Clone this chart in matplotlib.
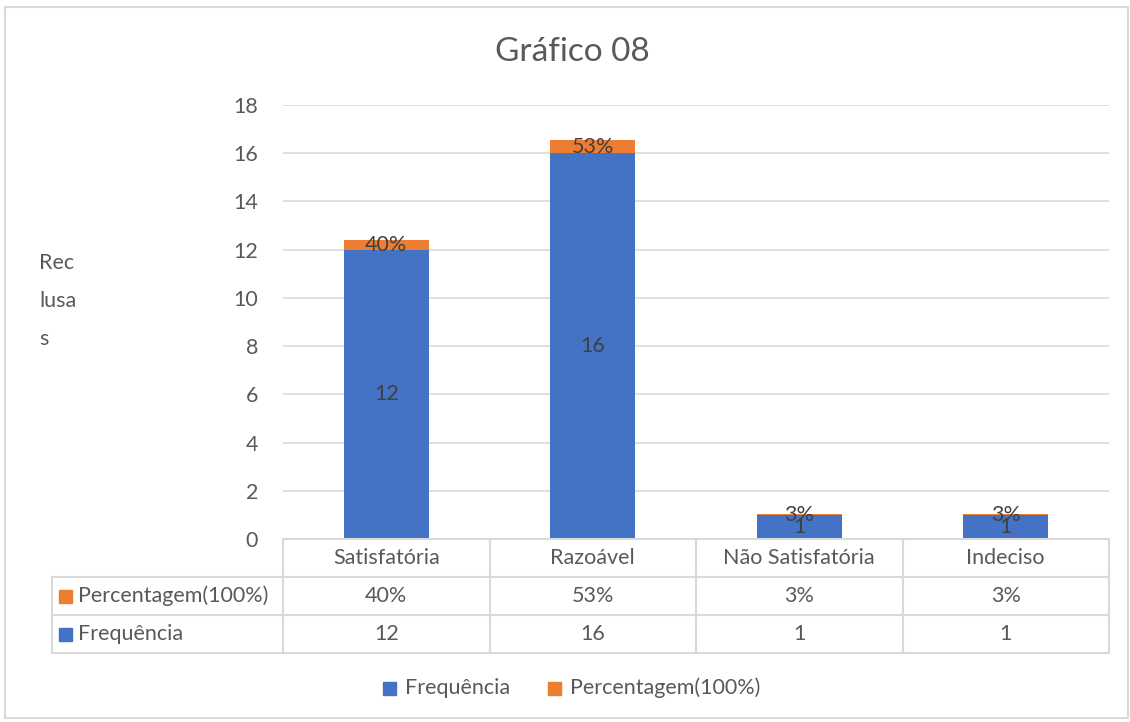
import matplotlib
matplotlib.use("Agg")
import matplotlib.pyplot as plt
from matplotlib.lines import Line2D
from matplotlib.patches import Rectangle

categories = ["Satisfatória", "Razoável", "Não Satisfatória", "Indeciso"]
frequencia = [12, 16, 1, 1]
percentagem = [0.40, 0.53, 0.03, 0.03]
perc_labels = ["40%", "53%", "3%", "3%"]
series_names = ["Frequência", "Percentagem(100%)"]
yticks = [0, 2, 4, 6, 8, 10, 12, 14, 16, 18]
title = "Gráfico 08"

BLUE = "#4472C4"
ORANGE = "#ED7D31"
TXT = "#595959"
LBL = "#404040"
GRID = "#D9D9D9"
FONT = ["Lato", "DejaVu Sans"]
plt.rcParams['font.family'] = FONT
FS = 15.5

W, H = 1130, 722
fig = plt.figure(figsize=(W / 100, H / 100), dpi=100)

def fx(x):
    return x / W

def fy(y):
    return 1 - y / H

L, R, B, T = 283, 1109, 539, 105
ax = fig.add_axes([fx(L), fy(B), fx(R) - fx(L), fy(T) - fy(B)])
n = len(categories)
xs = list(range(n))
ax.set_xlim(-0.5, n - 0.5)
ax.set_ylim(0, 18)
ax.bar(xs, frequencia, width=0.41, color=BLUE, zorder=3)
ax.bar(xs, percentagem, width=0.41, bottom=frequencia, color=ORANGE, zorder=3)
for i in xs:
    ax.text(i, frequencia[i] / 2, str(frequencia[i]), ha="center", va="center",
            fontsize=FS, color=LBL, zorder=4)
    ax.text(i, frequencia[i] + percentagem[i] / 2, perc_labels[i], ha="center",
            va="center", fontsize=FS, color=LBL, zorder=4)
ax.set_yticks(yticks)
ax.set_yticklabels([str(t) for t in yticks])
ax.tick_params(axis="y", length=0, pad=18, labelsize=FS, labelcolor=TXT)
ax.set_xticks([])
ax.yaxis.grid(True, color=GRID, linewidth=1.2, zorder=0)
for s in ax.spines.values():
    s.set_visible(False)

# Outer border
fig.add_artist(Rectangle((fx(5), fy(718)), fx(1128) - fx(5), fy(7) - fy(718),
                         fill=False, edgecolor=GRID, linewidth=1.5))

# Title
fig.text(fx(572), fy(52), title, ha="center", va="center", fontsize=24, color=TXT)

# Y label
for k, part in enumerate(["Rec", "lusa", "s"]):
    fig.text(fx(39), fy(263 + 38 * k), part, ha="left", va="center", fontsize=FS, color=TXT)

# Data table
def hline(y, x0, x1):
    fig.add_artist(Line2D([fx(x0), fx(x1)], [fy(y), fy(y)], color=GRID, linewidth=1.5))

def vline(x, y0, y1):
    fig.add_artist(Line2D([fx(x), fx(x)], [fy(y0), fy(y1)], color=GRID, linewidth=1.5))

rows = [539, 577, 615, 653]
cw = (R - L) / n
hline(rows[0], L, R)
for y in rows[1:]:
    hline(y, 52, R)
vline(52, rows[1], rows[3])
for k in range(n + 1):
    vline(L + cw * k, rows[0], rows[3])

for i, c in enumerate(categories):
    cx = L + cw * (i + 0.5)
    fig.text(fx(cx), fy((rows[0] + rows[1]) / 2), c, ha="center", va="center", fontsize=FS, color=TXT)
    fig.text(fx(cx), fy((rows[1] + rows[2]) / 2), perc_labels[i], ha="center", va="center", fontsize=FS, color=TXT)
    fig.text(fx(cx), fy((rows[2] + rows[3]) / 2), str(frequencia[i]), ha="center", va="center", fontsize=FS, color=TXT)

for (name, col, r0, r1) in [(series_names[1], ORANGE, rows[1], rows[2]),
                             (series_names[0], BLUE, rows[2], rows[3])]:
    ym = (r0 + r1) / 2
    fig.add_artist(Rectangle((fx(59), fy(ym + 7)), fx(13), fy(0) - fy(13), color=col))
    fig.text(fx(78), fy(ym), name, ha="left", va="center", fontsize=FS, color=TXT)

# Legend
legend_items = [(series_names[0], BLUE, 383), (series_names[1], ORANGE, 548)]
for name, col, x in legend_items:
    fig.add_artist(Rectangle((fx(x), fy(695)), fx(13), fy(0) - fy(13), color=col))
    fig.text(fx(x + 22), fy(688), name, ha="left", va="center", fontsize=FS, color=TXT)

fig.savefig("out.png", dpi=100)
